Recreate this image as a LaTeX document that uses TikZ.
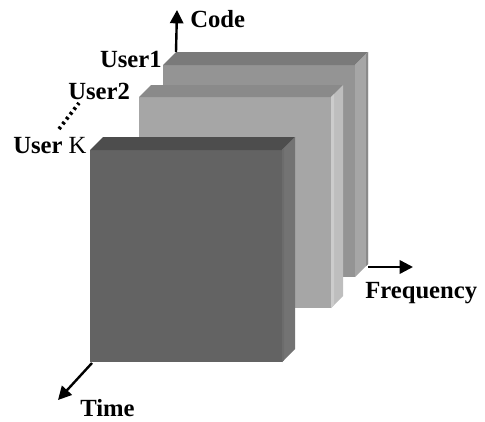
\documentclass[tikz,border=0pt]{standalone}
\usepackage{fontspec}
\setmainfont{Liberation Serif}
\usetikzlibrary{arrows.meta}

% slab shades: face, top bevel, side bevel, side edge
\definecolor{oneface}{RGB}{148,148,148}
\definecolor{onetop}{RGB}{122,122,122}
\definecolor{oneside}{RGB}{166,166,166}
\definecolor{oneedge}{RGB}{138,138,138}
\definecolor{twoface}{RGB}{166,166,166}
\definecolor{twotop}{RGB}{138,138,138}
\definecolor{twoside}{RGB}{190,190,190}
\definecolor{twoedge}{RGB}{204,204,204}
\definecolor{kface}{RGB}{99,99,99}
\definecolor{ktop}{RGB}{77,77,77}
\definecolor{kside}{RGB}{115,115,115}
\definecolor{kedge}{RGB}{108,108,108}

% #1 name, (#2,#3) front top-left, (#4,#5) front bottom-right, #6 depth
\newcommand\drawslab[6]{%
  \fill[#1face] (#2,#3) rectangle (#4,#5);
  \fill[#1top] (#2,#3) -- (#2+#6,#3-#6) -- (#4+#6,#3-#6) -- (#4,#3) -- cycle;
  \fill[#1side] (#4,#3) -- (#4+#6,#3-#6) -- (#4+#6,#5-#6) -- (#4,#5) -- cycle;
  \coordinate (#1-btl) at (#2+#6,#3-#6);
  \coordinate (#1-bbr) at (#4+#6,#5-#6);
  \coordinate (#1-fbl) at (#2,#5);
}

\begin{document}
\begin{tikzpicture}[x=0.75pt,y=-0.75pt,
  lbl/.style={inner sep=0pt,font=\fontsize{18.5}{20}\selectfont\bfseries},
  axis/.style={line width=1.8pt,-{Triangle[length=10pt,width=10pt]}},
  userdots/.style={line width=2.8pt,dash pattern=on 2pt off 2.6pt}]
\useasboundingbox (0,0) rectangle (485,421);

% stacked user slabs, back to front
\drawslab{one}{163}{65}{355}{277}{13}
\fill[oneedge] (366,54) -- (368,52) -- (368,264) -- (366,266) -- cycle;
\drawslab{two}{139}{97}{331}{308}{12}
\fill[twoedge] (331,97) -- (334,94) -- (334,305) -- (331,308) -- cycle;
\drawslab{k}{90}{150}{282}{362}{13}
\fill[kedge] (282,150) -- (284,148) -- (284,360) -- (282,362) -- cycle;

% axes
\coordinate (codetip) at (177,10);
\coordinate (freqtip) at (413,267);
\coordinate (timetip) at (58,400);
\draw[axis] (one-btl) -- (codetip);
\draw[axis] ([yshift=-2.25pt]one-bbr) -- (freqtip);
\draw[axis] ([xshift=1.5pt,yshift=-0.75pt]k-fbl) -- (timetip);

\node[lbl,anchor=base west] (code) at (190,27) {Code};
\node[lbl,anchor=base west] (freq) at (365,298) {Frequency};
\node[lbl,anchor=base west] (time) at (80,416) {Time};

% user labels
\node[lbl,anchor=base east] (user1) at (162,67) {User1};
\node[lbl,anchor=base west] (user2) at (68,99) {User2};
\node[lbl,anchor=base west] (userk) at (13,153) {User \mdseries K};
\coordinate (dotsA) at (59,129);
\coordinate (dotsB) at (79,103);
\draw[userdots] (dotsA) -- (dotsB);
\end{tikzpicture}
\end{document}
